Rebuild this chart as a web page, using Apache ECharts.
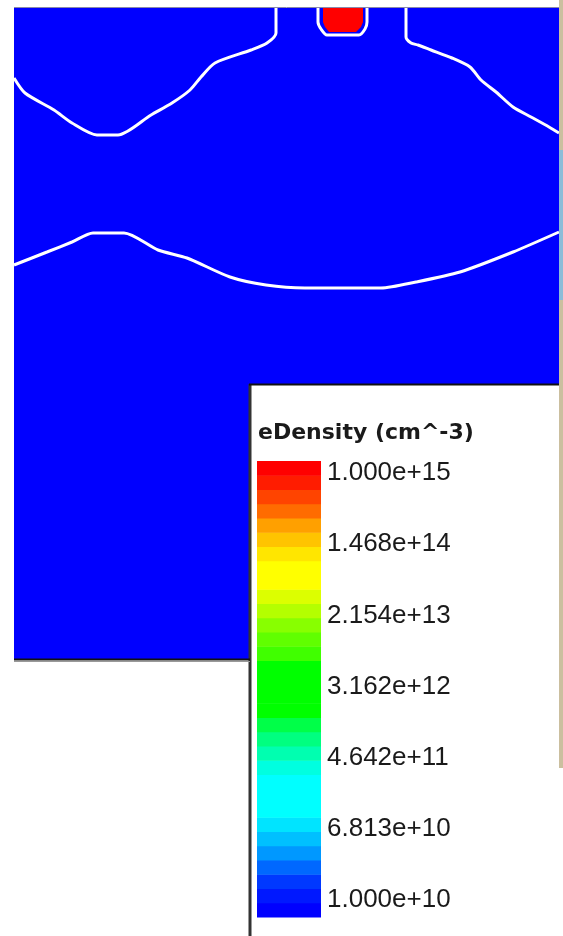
<!DOCTYPE html>
<html><head><meta charset="utf-8">
<script src="https://cdn.jsdelivr.net/npm/echarts@6/dist/echarts.min.js"></script>
<style>html,body{margin:0;padding:0;background:#fff}#c{width:563px;height:936px}</style>
</head><body><div id="c"></div>
<script>
// ---- data ----
const fieldWidth = 545;           // domain width (plot units)
const fieldDepth = 652;           // domain depth (plot units, downward)
const bulkLogDensity = 10;        // log10 eDensity of bulk region
const blobLogDensity = 15;        // log10 eDensity of the contact blob
const blobShape = [[309,0],[349,0],[349,14],[347,19],[342,24],[315,24],[311,19],[309,14]];
const contourLeft = [[0,70],[11,85],[40,102],[58,115],[83,127],[104,127],[137,107],[158,95],[176,82],[187,69],[201,55],[237,42],[253,35],[262,25],[262,0]];
const contourRight = [[392,0],[392,29],[397,35],[404,37],[417,42],[438,50],[456,59],[467,72],[482,84],[499,99],[517,109],[535,119],[545,125]];
const contourLower = [[0,257],[33,244],[58,234],[79,225],[110,225],[144,242],[173,250],[216,269],[252,277],[291,280],[367,280],[402,274],[446,264],[499,244],[545,224]];
const contourBlob = [[304,0],[304,14],[307,21],[313,27],[345,27],[351,21],[353,14],[353,0]];
const logMin = 10, logMax = 15;
const bandColors = ['#0000ff','#0018ff','#0038ff','#0068ff','#0098ff','#00c0ff','#00e4ff','#00ffff','#00ffff','#00ffff','#00ffe0','#00ffb0','#00ff80','#00ff48','#00ff00','#00ff00','#00ff00','#00ff00','#40ff00','#60ff00','#88ff00','#b4ff00','#dcff00','#ffff00','#ffff00','#ffe600','#ffc400','#ffa000','#ff6c00','#ff4400','#ff1c00','#ff0000'];
const tickLabels = ['1.000e+10','6.813e+10','4.642e+11','3.162e+12','2.154e+13','1.468e+14','1.000e+15'];
const titleText = 'eDensity (cm^-3)';

// ---- helpers ----
const bandStep = (logMax - logMin) / bandColors.length;
function colorFor(lv) {
  let i = Math.floor((lv - logMin) / bandStep + 1e-9);
  i = Math.max(0, Math.min(bandColors.length - 1, i));
  return bandColors[i];
}
const regions = [
  { ring: [[0,0],[fieldWidth,0],[fieldWidth,fieldDepth],[0,fieldDepth]], v: bulkLogDensity },
  { ring: blobShape, v: blobLogDensity }
];
const tickVals = tickLabels.map(s => Math.log10(parseFloat(s)));

const chart = echarts.init(document.getElementById('c'), null, {renderer: 'canvas'});
function contourSeries(d) {
  return { type: 'line', xAxisIndex: 0, yAxisIndex: 0, data: d, symbol: 'none', silent: true, smooth: 0.25,
    lineStyle: { color: '#ffffff', width: 3 }, z: 5, animation: false };
}
chart.setOption({
  animation: false,
  backgroundColor: '#ffffff',
  title: { text: titleText, left: 253, top: 417, z: 300,
    textStyle: { fontFamily: 'DejaVu Sans', fontSize: 22, fontWeight: 'bold', color: '#1a1a1a' } },
  grid: [
    { left: 14, top: 8, width: 545, height: 652, show: false },
    { left: 257, top: 461, width: 64, height: 456, show: false, z: 150 },
    { left: 320, top: 473, width: 2, height: 427, show: false, z: 150 }
  ],
  xAxis: [
    { gridIndex: 0, type: 'value', min: 0, max: fieldWidth, show: false },
    { gridIndex: 1, type: 'value', min: 0, max: 1, show: false },
    { gridIndex: 2, type: 'value', min: 0, max: 1, show: false }
  ],
  yAxis: [
    { gridIndex: 0, type: 'value', min: 0, max: fieldDepth, inverse: true, show: false },
    { gridIndex: 1, type: 'value', min: logMin, max: logMax, show: false },
    { gridIndex: 2, type: 'value', min: logMin, max: logMax, position: 'right', z: 150,
      axisLine: { show: false }, axisTick: { show: false }, splitLine: { show: false },
      axisLabel: { show: true, customValues: tickVals, margin: 5, fontFamily: 'Liberation Sans', fontSize: 26, color: '#1a1a1a',
        formatter: v => { let best = 0; tickVals.forEach((t, i) => { if (Math.abs(t - v) < Math.abs(tickVals[best] - v)) best = i; }); return tickLabels[best]; } } }
  ],
  graphic: [
    { type: 'rect', z: 100, shape: { x: 250, y: 384, width: 309, height: 560 }, style: { fill: '#ffffff' } },
    { type: 'line', z: 101, shape: { x1: 250, y1: 384, x2: 250, y2: 936 }, style: { stroke: '#333333', lineWidth: 3 } },
    { type: 'line', z: 101, shape: { x1: 249, y1: 384.5, x2: 559, y2: 384.5 }, style: { stroke: '#111111', lineWidth: 2 } },
    { type: 'line', z: 101, shape: { x1: 14, y1: 659.5, x2: 250, y2: 659.5 }, style: { stroke: '#111111', lineWidth: 2 } },
    { type: 'line', z: 101, shape: { x1: 14, y1: 661.5, x2: 250, y2: 661.5 }, style: { stroke: '#999999', lineWidth: 1 } },
    { type: 'line', z: 101, shape: { x1: 14, y1: 7.5, x2: 559, y2: 7.5 }, style: { stroke: '#8888aa', lineWidth: 1 } },
    { type: 'rect', z: 101, shape: { x: 559, y: 0, width: 4, height: 768 }, style: { fill: '#cbbf9f' } },
    { type: 'rect', z: 101, shape: { x: 559, y: 150, width: 4, height: 150 }, style: { fill: '#8cbcd8' } }
  ],
  series: [
    { type: 'custom', xAxisIndex: 0, yAxisIndex: 0, data: regions.map((r, i) => [i]), z: 2, silent: true,
      renderItem: (params, api) => {
        const r = regions[api.value(0)];
        return { type: 'polygon', shape: { points: r.ring.map(p => api.coord(p)) }, style: { fill: colorFor(r.v) } };
      } },
    contourSeries(contourLeft),
    contourSeries(contourRight),
    contourSeries(contourLower),
    contourSeries(contourBlob),
    { type: 'custom', xAxisIndex: 1, yAxisIndex: 1, z: 150, silent: true,
      data: bandColors.map((c, i) => [i]),
      renderItem: (params, api) => {
        const i = api.value(0);
        const lo = logMin + i * bandStep, hi = lo + bandStep;
        const p0 = api.coord([0, hi]), p1 = api.coord([1, lo]);
        return { type: 'rect', shape: { x: p0[0], y: p0[1], width: p1[0] - p0[0], height: p1[1] - p0[1] + 0.5 }, style: { fill: bandColors[i] } };
      } }
  ]
});
</script></body></html>
